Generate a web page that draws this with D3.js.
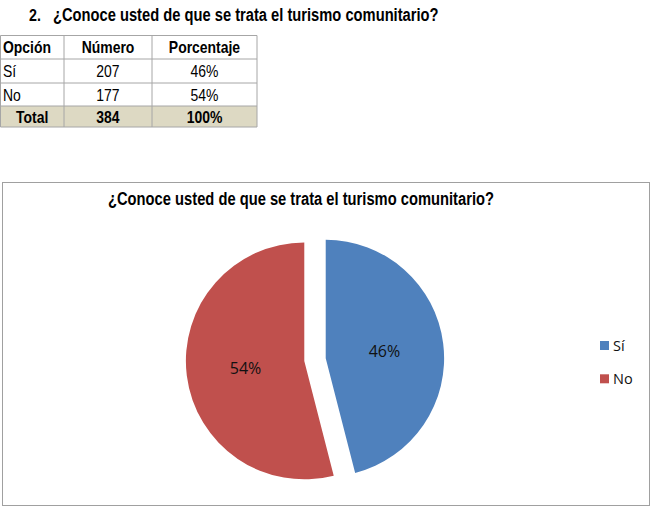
<!DOCTYPE html>
<html>
<head>
<meta charset="utf-8">
<script src="https://cdn.jsdelivr.net/npm/d3@7"></script>
<style>
  body { margin: 0; background: #fff; }
  svg { display: block; }
</style>
</head>
<body>
<script>
// datos de la pregunta 2
const pregunta = "¿Conoce usted de que se trata el turismo comunitario?"
const encabezados = ["Opción", "Número", "Porcentaje"]
const opciones = ["Sí", "No"]
const numeros = [207, 177]
const porcentajes = [46, 54]
const totalFila = ["Total", "384", "100%"]
const colores = ["#4F81BD", "#C0504D"]

const W = 651, H = 507
const arial = "'Liberation Sans', Arial, sans-serif"

// no hay Arial Narrow: se comprime el texto a lo ancho
function condensar(sel, f) {
    sel.each(function () {
        const l = this.getComputedTextLength()
        d3.select(this).attr("textLength", l * f).attr("lengthAdjust", "spacingAndGlyphs")
    })
}

const svg = d3.select("body").append("svg")
    .attr("width", W)
    .attr("height", H)

// ---- titulo de la pregunta
svg.append("text")
    .attr("x", 29).attr("y", 21)
    .style("font-family", arial).style("font-weight", "bold").style("font-size", "17px")
    .text("2.")
    .call(condensar, 0.84)
svg.append("text")
    .attr("x", 53).attr("y", 21)
    .style("font-family", arial).style("font-weight", "bold").style("font-size", "17.5px")
    .text(pregunta)
    .call(condensar, 0.84)

// ---- tabla
const colX = [0.5, 64, 152, 257]
const filaY = [35.5, 59, 83, 106, 127]
const tabla = svg.append("g")

// fondo de la fila total
tabla.append("rect")
    .attr("x", colX[0]).attr("y", filaY[3])
    .attr("width", colX[3] - colX[0]).attr("height", filaY[4] - filaY[3])
    .attr("fill", "#DDD9C3")

filaY.forEach(y => {
    tabla.append("line")
        .attr("x1", colX[0]).attr("x2", colX[3])
        .attr("y1", y).attr("y2", y)
        .attr("stroke", "#a6a6a6")
})
colX.forEach(x => {
    tabla.append("line")
        .attr("x1", x).attr("x2", x)
        .attr("y1", filaY[0]).attr("y2", filaY[4])
        .attr("stroke", "#a6a6a6")
})

const filas = [encabezados]
opciones.forEach((op, i) => filas.push([op, String(numeros[i]), porcentajes[i] + "%"]))
filas.push(totalFila)

filas.forEach((fila, r) => {
    const negrita = (r === 0 || r === filas.length - 1)
    const yc = (filaY[r] + filaY[r + 1]) / 2
    fila.forEach((txt, c) => {
        const izquierda = c === 0 && r !== filas.length - 1
        tabla.append("text")
            .attr("x", izquierda ? colX[0] + 2.5 : (colX[c] + colX[c + 1]) / 2)
            .attr("y", yc + 6)
            .attr("text-anchor", izquierda ? "start" : "middle")
            .style("font-family", arial)
            .style("font-size", "17px")
            .style("font-weight", negrita ? "bold" : "normal")
            .text(txt)
            .call(condensar, 0.82)
    })
})

// ---- grafico
svg.append("rect")
    .attr("x", 2.5).attr("y", 182.5)
    .attr("width", 647).attr("height", 323)
    .attr("fill", "#fff")
    .attr("stroke", "#a0a0a0")

svg.append("text")
    .attr("x", 108).attr("y", 205)
    .style("font-family", arial).style("font-weight", "bold").style("font-size", "17.5px")
    .attr("textLength", 386).attr("lengthAdjust", "spacingAndGlyphs")
    .text(pregunta)

const cx = 315, cy = 359.6, radio = 118.4, separacion = 10.8

const pie = d3.pie().sort(null).value(d => d)
const arco = d3.arc().innerRadius(0).outerRadius(radio)
const datosPie = pie(porcentajes)

const gPie = svg.append("g")
    .attr("transform", "translate(" + cx + "," + cy + ")")

const porciones = gPie.selectAll("g.porcion")
    .data(datosPie)
    .join("g")
    .attr("class", "porcion")
    .attr("transform", d => {
        const a = (d.startAngle + d.endAngle) / 2
        return "translate(" + (Math.sin(a) * separacion) + "," + (-Math.cos(a) * separacion) + ")"
    })

porciones.append("path")
    .attr("d", arco)
    .attr("fill", (d, i) => colores[i])

porciones.append("text")
    .attr("transform", d => "translate(" + arco.centroid(d) + ")")
    .attr("text-anchor", "middle")
    .attr("dy", "0.38em")
    .style("font-family", "'Open Sans', sans-serif")
    .style("font-size", "16px")
    .attr("fill", "#111")
    .text(d => d.data + "%")

// ---- leyenda
const leyenda = svg.append("g")
    .attr("transform", "translate(600,341)")
const yLeyenda = d3.scalePoint().domain(opciones).range([0, 33.3])

opciones.forEach((op, i) => {
    leyenda.append("rect")
        .attr("x", 0).attr("y", yLeyenda(op))
        .attr("width", 9).attr("height", 9)
        .attr("fill", colores[i])
    leyenda.append("text")
        .attr("x", 13).attr("y", yLeyenda(op) + 4.5)
        .attr("dy", "0.35em")
        .style("font-family", "'Open Sans', sans-serif")
        .style("font-size", "14.5px")
        .attr("fill", "#111")
        .text(op)
})
</script>
</body>
</html>
